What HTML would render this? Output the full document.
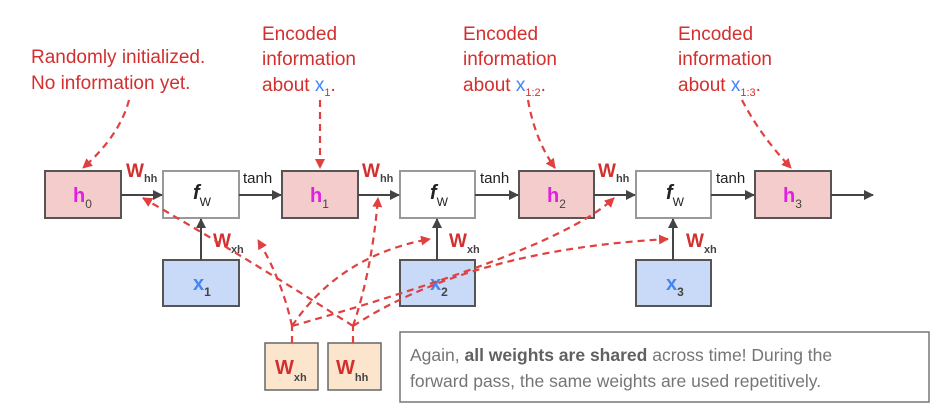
<!DOCTYPE html>
<html><head><meta charset="utf-8"><style>
html,body{margin:0;padding:0;background:#fff;width:940px;height:414px;overflow:hidden}
svg{display:block}
text{font-family:"Liberation Sans",sans-serif}
.r{fill:#d32f2f;font-size:19px}
.b{fill:#4285f4}
.box{stroke:#555;stroke-width:2}
.d{fill:none;stroke:#e04040;stroke-width:2.2;stroke-dasharray:7,5}
.a{stroke:#444;stroke-width:2;fill:none}
</style></head><body>
<svg width="940" height="414" viewBox="0 0 940 414">
<defs>
<marker id="ak" markerWidth="10" markerHeight="10" refX="9" refY="5" orient="auto" markerUnits="userSpaceOnUse"><path d="M0,0 L10,5 L0,10z" fill="#444"/></marker>
<marker id="ar" markerWidth="10" markerHeight="10" refX="9" refY="5" orient="auto" markerUnits="userSpaceOnUse"><path d="M0,0 L10,5 L0,10z" fill="#e04040"/></marker>
</defs>
<text class="r" x="31" y="63">Randomly initialized.</text>
<text class="r" x="31" y="89">No information yet.</text>
<text class="r" x="262" y="40">Encoded</text>
<text class="r" x="262" y="65">information</text>
<text class="r" x="262" y="91">about <tspan class="b">x</tspan><tspan font-size="11" dy="5">1</tspan><tspan dy="-5">.</tspan></text>
<text class="r" x="463" y="40">Encoded</text>
<text class="r" x="463" y="65">information</text>
<text class="r" x="463" y="91">about <tspan class="b">x</tspan><tspan font-size="11" dy="5">1:2</tspan><tspan dy="-5">.</tspan></text>
<text class="r" x="678" y="40">Encoded</text>
<text class="r" x="678" y="65">information</text>
<text class="r" x="678" y="91">about <tspan class="b">x</tspan><tspan font-size="11" dy="5">1:3</tspan><tspan dy="-5">.</tspan></text>
<path class="d" d="M129,100 Q120,135 83,168" marker-end="url(#ar)"/>
<path class="d" d="M320,100 L320,168" marker-end="url(#ar)"/>
<path class="d" d="M528,100 Q535,140 555,168" marker-end="url(#ar)"/>
<path class="d" d="M742,100 Q760,135 791,168" marker-end="url(#ar)"/>
<rect class="box" x="45" y="171" width="76" height="47" fill="#f4cccc"/>
<rect x="163" y="171" width="76" height="47" fill="#fff" stroke="#999" stroke-width="2"/>
<rect class="box" x="282" y="171" width="76" height="47" fill="#f4cccc"/>
<rect x="400" y="171" width="75" height="47" fill="#fff" stroke="#999" stroke-width="2"/>
<rect class="box" x="519" y="171" width="75" height="47" fill="#f4cccc"/>
<rect x="636" y="171" width="75" height="47" fill="#fff" stroke="#999" stroke-width="2"/>
<rect class="box" x="755" y="171" width="76" height="47" fill="#f4cccc"/>
<rect class="box" x="163" y="260" width="76" height="46" fill="#c9daf8"/>
<rect class="box" x="400" y="260" width="75" height="46" fill="#c9daf8"/>
<rect class="box" x="636" y="260" width="75" height="46" fill="#c9daf8"/>
<rect x="265" y="343" width="53" height="47" fill="#fce5cd" stroke="#666" stroke-width="1.5"/>
<rect x="328" y="343" width="53" height="47" fill="#fce5cd" stroke="#666" stroke-width="1.5"/>
<rect x="400" y="332" width="529" height="70" fill="#fff" stroke="#777" stroke-width="1.5"/>
<g font-size="20">
<text x="73" y="202" fill="#e020e0" font-weight="bold">h<tspan font-size="12" fill="#444" font-weight="normal" dy="6">0</tspan></text>
<text x="310" y="202" fill="#e020e0" font-weight="bold">h<tspan font-size="12" fill="#444" font-weight="normal" dy="6">1</tspan></text>
<text x="547" y="202" fill="#e020e0" font-weight="bold">h<tspan font-size="12" fill="#444" font-weight="normal" dy="6">2</tspan></text>
<text x="783" y="202" fill="#e020e0" font-weight="bold">h<tspan font-size="12" fill="#444" font-weight="normal" dy="6">3</tspan></text>
<text x="193" y="199" fill="#222" font-style="italic" font-weight="bold">f<tspan font-size="12" font-style="normal" font-weight="normal" dy="7">W</tspan></text>
<text x="430" y="199" fill="#222" font-style="italic" font-weight="bold">f<tspan font-size="12" font-style="normal" font-weight="normal" dy="7">W</tspan></text>
<text x="666" y="199" fill="#222" font-style="italic" font-weight="bold">f<tspan font-size="12" font-style="normal" font-weight="normal" dy="7">W</tspan></text>
<text x="193" y="290" fill="#4285f4" font-weight="bold">x<tspan font-size="12" fill="#444" dy="6">1</tspan></text>
<text x="430" y="290" fill="#4285f4" font-weight="bold">x<tspan font-size="12" fill="#444" dy="6">2</tspan></text>
<text x="666" y="290" fill="#4285f4" font-weight="bold">x<tspan font-size="12" fill="#444" dy="6">3</tspan></text>
<text x="275" y="374" fill="#d32f2f" font-weight="bold">W<tspan font-size="11" fill="#444" dy="7">xh</tspan></text>
<text x="336" y="374" fill="#d32f2f" font-weight="bold">W<tspan font-size="11" fill="#444" dy="7">hh</tspan></text>
</g>
<path class="a" d="M121,195 L162,195" marker-end="url(#ak)"/>
<path class="a" d="M239,195 L281,195" marker-end="url(#ak)"/>
<path class="a" d="M358,195 L399,195" marker-end="url(#ak)"/>
<path class="a" d="M475,195 L518,195" marker-end="url(#ak)"/>
<path class="a" d="M594,195 L635,195" marker-end="url(#ak)"/>
<path class="a" d="M711,195 L754,195" marker-end="url(#ak)"/>
<path class="a" d="M831,195 L873,195" marker-end="url(#ak)"/>
<path class="a" d="M201,260 L201,219" marker-end="url(#ak)"/>
<path class="a" d="M437,260 L437,219" marker-end="url(#ak)"/>
<path class="a" d="M673,260 L673,219" marker-end="url(#ak)"/>
<g font-size="19" fill="#d32f2f" font-weight="bold">
<text x="126" y="177">W<tspan font-size="11" fill="#444" dy="5">hh</tspan></text>
<text x="362" y="177">W<tspan font-size="11" fill="#444" dy="5">hh</tspan></text>
<text x="598" y="177">W<tspan font-size="11" fill="#444" dy="5">hh</tspan></text>
<text x="213" y="247">W<tspan font-size="11" fill="#444" dy="6">xh</tspan></text>
<text x="449" y="247">W<tspan font-size="11" fill="#444" dy="6">xh</tspan></text>
<text x="686" y="247">W<tspan font-size="11" fill="#444" dy="6">xh</tspan></text>
</g>
<g font-size="15" fill="#222">
<text x="243" y="183">tanh</text>
<text x="480" y="183">tanh</text>
<text x="716" y="183">tanh</text>
</g>
<path class="d" d="M292,343 L292,326"/>
<path class="d" d="M353,343 L353,326"/>
<path class="d" d="M353,326 Q250,260 143,198" marker-end="url(#ar)"/>
<path class="d" d="M292,326 Q282,280 258,240" marker-end="url(#ar)"/>
<path class="d" d="M292,326 Q340,255 430,239" marker-end="url(#ar)"/>
<path class="d" d="M353,326 Q372,270 378,198" marker-end="url(#ar)"/>
<path class="d" d="M292,326 Q560,250 614,198" marker-end="url(#ar)"/>
<path class="d" d="M353,326 Q470,250 668,239" marker-end="url(#ar)"/>
<g font-size="17.5" fill="#757575">
<text x="410" y="361">Again, <tspan font-weight="bold" fill="#616161">all weights are shared</tspan> across time! During the</text>
<text x="410" y="387">forward pass, the same weights are used repetitively.</text>
</g>
</svg>
</body></html>
